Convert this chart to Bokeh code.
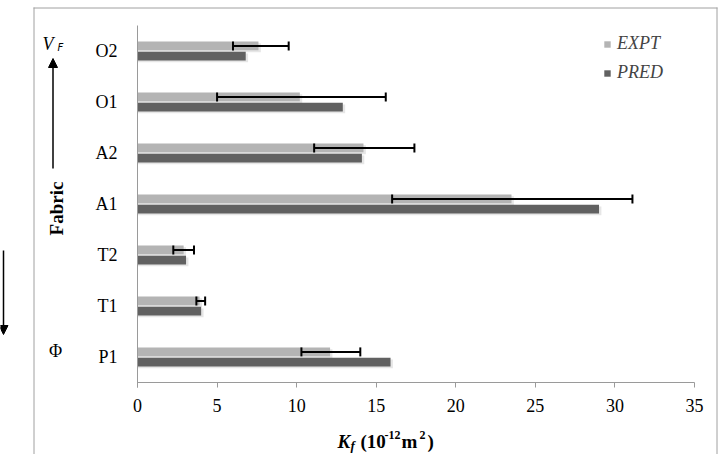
import math
from bokeh.plotting import figure
from bokeh.models import (ColumnDataSource, Range1d, Whisker, TeeHead, Label, Arrow,
                          NormalHead, Legend, LegendItem, FixedTicker)
from bokeh.transform import dodge
from bokeh.embed import file_html
from bokeh.resources import INLINE

# ---- data ----
fabrics = ["O2", "O1", "A2", "A1", "T2", "T1", "P1"]          # top to bottom
expt    = [7.6, 10.2, 14.2, 23.5, 2.9, 3.9, 12.1]
expt_lo = [6.0, 5.0, 11.1, 16.0, 2.25, 3.7, 10.3]
expt_hi = [9.5, 15.6, 17.4, 31.1, 3.55, 4.25, 14.0]
pred    = [6.8, 12.9, 14.1, 29.0, 3.05, 4.0, 15.9]
x_ticks = [0, 5, 10, 15, 20, 25, 30, 35]

SERIF = "Liberation Serif"
EXPT_C = "#b4b4b4"
PRED_C = "#616161"
AXIS_C = "#9a9a9a"

# canvas and plot-area geometry (px)
W, H = 721, 454
FL, FR, FT, FB = 137, 694, 25, 382
XMAX = 35
n = len(fabrics)
pxu_x = (FR - FL) / XMAX
pxu_y = (FB - FT) / n

ypos = [n - 0.5 - i for i in range(n)]   # category slots, top to bottom

src = ColumnDataSource(dict(y=ypos, expt=expt, lo=expt_lo, hi=expt_hi, pred=pred,
                            expt_sh=[v + 0.15 for v in expt], pred_sh=[v + 0.15 for v in pred]))

# the frame covers the whole canvas so that texts and arrows outside the bar area are visible
p = figure(width=W, height=H, output_backend="svg", toolbar_location=None,
           x_range=Range1d(-FL / pxu_x, (W - FL) / pxu_x),
           y_range=Range1d(-(H - FB) / pxu_y, n + FT / pxu_y),
           min_border=0)
p.min_border_left = p.min_border_right = p.min_border_top = p.min_border_bottom = 0
p.outline_line_color = None
p.grid.visible = False

BH = 0.175
p.hbar(y=dodge("y", 0.1 - 0.035), right="expt_sh", left=0, height=BH,
       source=src, fill_color="#e6e6e6", line_color=None)
p.hbar(y=dodge("y", -0.1 - 0.035), right="pred_sh", left=0, height=BH,
       source=src, fill_color="#e6e6e6", line_color=None)
r_e = p.hbar(y=dodge("y", 0.1), right="expt", left=0, height=BH,
             source=src, fill_color=EXPT_C, line_color=None)
r_p = p.hbar(y=dodge("y", -0.1), right="pred", left=0, height=BH,
             source=src, fill_color=PRED_C, line_color=None)

wh = Whisker(base=dodge("y", 0.1), lower="lo", upper="hi", dimension="width",
             source=src, line_color="black", line_width=2, level="overlay",
             lower_head=TeeHead(size=9, line_width=2, line_color="black"),
             upper_head=TeeHead(size=9, line_width=2, line_color="black"))
p.add_layout(wh)

# axes, pinned at the plot-area edges
xa = p.xaxis[0]
xa.fixed_location = 0
xa.bounds = (0, XMAX)
xa.ticker = FixedTicker(ticks=x_ticks)
xa.axis_line_color = AXIS_C
xa.major_tick_line_color = AXIS_C
xa.major_tick_out = 5
xa.major_tick_in = 0
xa.minor_tick_line_color = None
xa.major_label_text_font = SERIF
xa.major_label_text_font_size = "18px"
xa.major_label_text_color = "black"
xa.major_label_standoff = 11

ya = p.yaxis[0]
ya.fixed_location = 0
ya.bounds = (-0.1, n)
ya.ticker = FixedTicker(ticks=ypos)
ya.major_label_overrides = {y: f for y, f in zip(ypos, fabrics)}
ya.axis_line_color = AXIS_C
ya.major_tick_line_color = None
ya.minor_tick_line_color = None
ya.major_label_text_font = SERIF
ya.major_label_text_font_size = "18px"
ya.major_label_text_color = "black"
ya.major_label_standoff = 14

leg = Legend(items=[LegendItem(label="EXPT", renderers=[r_e]),
                    LegendItem(label="PRED", renderers=[r_p])],
             location=(603, H - 35 - 48), orientation="vertical",
             label_text_font=SERIF, label_text_font_size="18px", label_text_font_style="italic",
             label_height=20, glyph_height=8, glyph_width=8, spacing=8, padding=0, margin=0,
             label_standoff=6, border_line_color=None, background_fill_alpha=0)
p.add_layout(leg)

def lab(text, px, py, size, style="normal", font=SERIF, align="left", baseline="alphabetic", angle=0):
    p.add_layout(Label(x=px, y=py, x_units="canvas", y_units="canvas", text=text,
                       text_font=font, text_font_size=size, level="overlay",
                       text_font_style=style, text_align=align, text_baseline=baseline,
                       text_color="black", angle=angle))

# x-axis title: K_f (10^-12 m^2)
lab("K", 337, 441, "19px", "bold italic")
lab("f", 350, 445, "13px", "bold italic")
lab("(10", 360, 441, "19px", "bold")
lab("-12", 384, 434, "12px", "bold")
lab("m", 401, 441, "19px", "bold")
lab("2", 419, 434, "12px", "bold")
lab(")", 427, 441, "19px", "bold")

# left-side annotations
lab("V", 42, 43, "18px", "italic")
lab("F", 57, 47, "10px", "italic", font="DejaVu Sans")
lab("Fabric", 56, 208, "19px", "bold", align="center", baseline="middle", angle=math.pi / 2)
lab("\u03a6", 55, 350, "18px", align="center", baseline="middle")

def arrow(x0, y0, x1, y1, head=True, color="black", width=1.5):
    p.add_layout(Arrow(x_start=x0, y_start=y0, x_end=x1, y_end=y1,
                       start_units="canvas", end_units="canvas", level="overlay",
                       line_color=color, line_width=width,
                       end=NormalHead(size=9, fill_color=color, line_color=color) if head else None))

arrow(52.5, 168, 52.5, 58)
arrow(3, 250, 3, 334)

# outer chart border
arrow(33, 7.5, 717, 7.5, head=False, color="#a0a0a0", width=1)
arrow(33.5, 7, 33.5, 460, head=False, color="#a0a0a0", width=1)
arrow(716.5, 7, 716.5, 460, head=False, color="#a0a0a0", width=1)

open("out.html", "w").write(file_html(p, INLINE))
